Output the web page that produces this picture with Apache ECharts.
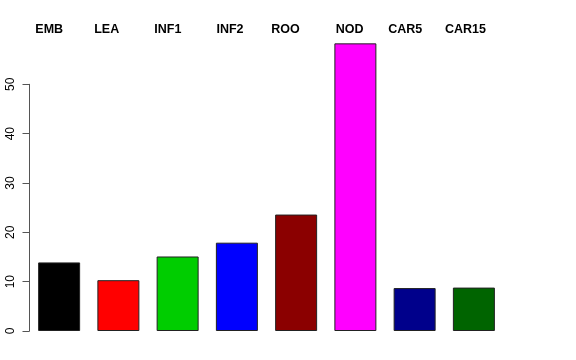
<!DOCTYPE html>
<html><head><meta charset="utf-8">
<script src="https://cdn.jsdelivr.net/npm/echarts@6/dist/echarts.min.js"></script>
<style>html,body{margin:0;padding:0;background:#fff}#c{width:576px;height:360px}</style>
</head><body><div id="c"></div>
<script>
var categories = ['EMB','LEA','INF1','INF2','ROO','NOD','CAR5','CAR15'];
var values = [13.9, 10.3, 15.1, 17.9, 23.6, 58.3, 8.7, 8.8];
var colors = ['#000000','#FF0000','#00CD00','#0000FF','#8B0000','#FF00FF','#00008B','#006400'];
var yTicks = [0, 10, 20, 30, 40, 50];
// label centre x positions (layout, not data)
var labelX = [49.2, 106.7, 167.9, 230, 285.5, 349.7, 405.2, 465.5];

var chart = echarts.init(document.getElementById('c'), null, {renderer:'canvas'});
var font = '"Liberation Sans", Arial, Helvetica, sans-serif';
chart.setOption({
  animation: false,
  backgroundColor: '#ffffff',
  grid: {left: 29.5, right: 72.5, top: 84.3, bottom: 29, containLabel: false},
  xAxis: {
    type: 'category', data: categories,
    axisLine: {show: false}, axisTick: {show: false}, axisLabel: {show: false}, splitLine: {show: false}
  },
  yAxis: {
    type: 'value', min: yTicks[0], max: yTicks[yTicks.length-1], interval: 10,
    axisLine: {show: true, lineStyle: {color: '#555', width: 1}},
    axisTick: {show: true, length: 7, lineStyle: {color: '#555'}},
    axisLabel: {show: true, rotate: 90, margin: 13, fontSize: 12, color: '#000', fontFamily: font},
    splitLine: {show: false}
  },
  series: [{
    type: 'bar', clip: false, barWidth: 42,
    data: values.map(function(v, i){ return {value: v, itemStyle: {color: colors[i]}}; }),
    itemStyle: {borderColor: '#222', borderWidth: 1}
  }],
  graphic: categories.map(function(c, i){
    return {type: 'text', x: labelX[i], y: 30, style: {text: c, fill: '#000', font: 'bold 12.5px ' + font, textAlign: 'center', textVerticalAlign: 'middle'}};
  })
});
</script></body></html>
